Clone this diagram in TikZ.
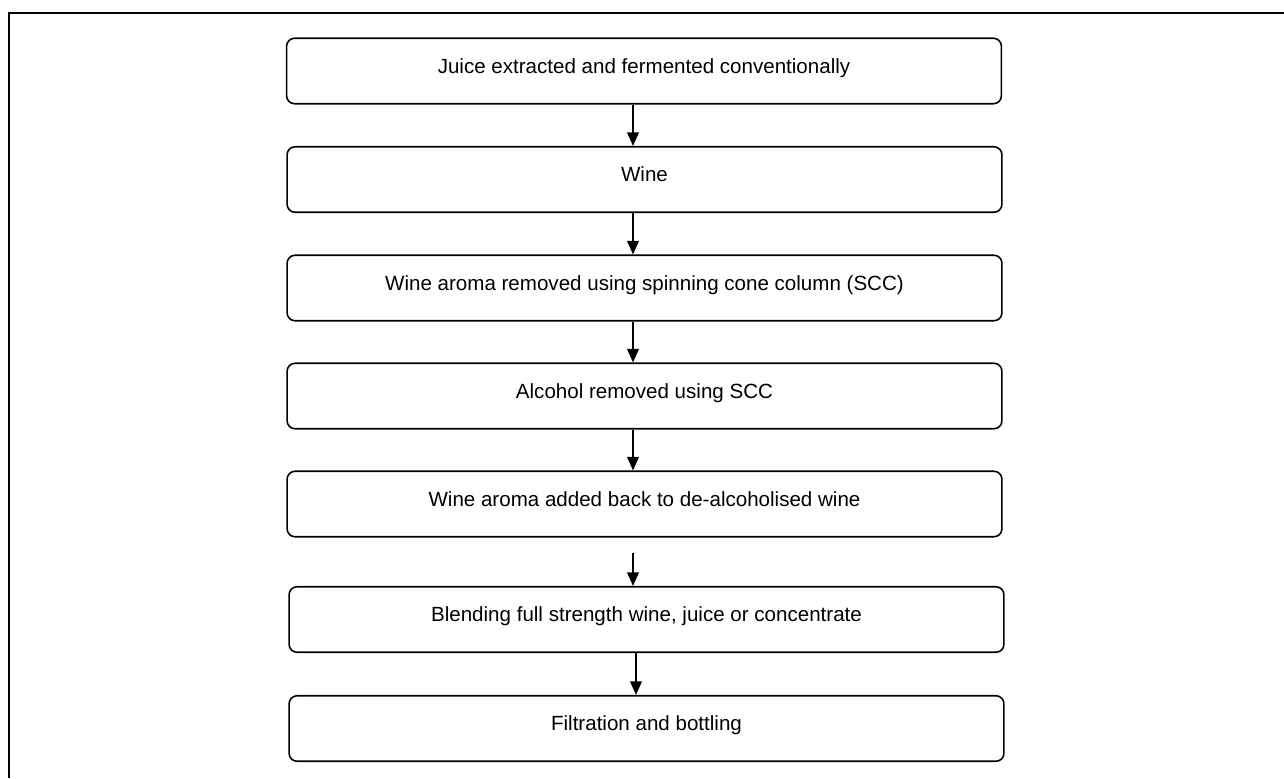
\documentclass[tikz,border=0pt]{standalone}
\usepackage{fontspec}
\setmainfont{Liberation Sans}
\usetikzlibrary{arrows.meta}

\begin{document}
\begin{tikzpicture}[x=0.02cm,y=-0.02cm]
          \useasboundingbox (0,0) rectangle (1284,778);
          \draw [line width=1.3pt] (1284,13) -| (9,778);

          \begin{scope}[every node/.style={draw,line width=0.9pt,rounded corners=0.16cm,
              minimum width=14.3cm,minimum height=1.31cm,inner sep=0pt,
              text height=0.3cm,text depth=0.22cm,font=\fontsize{11.7}{14}\selectfont}]
            \node (juice) at (644,71) {Juice extracted and fermented conventionally};
            \node (wine) at (644.5,179.5) {Wine};
            \node (aroma) at (644.5,288) {Wine aroma removed using spinning cone column (SCC)};
            \node (alcohol) at (644.5,396) {Alcohol removed using SCC};
            \node (addback) at (644.5,504) {Wine aroma added back to de-alcoholised wine};
            \node (blend) at (646.5,619.5) {Blending full strength wine, juice or concentrate};
            \node (bottle) at (646.5,728.5) {Filtration and bottling};
          \end{scope}

          \coordinate (ax) at (633,0);
          \coordinate (bx) at (636,0);
          \coordinate (gap) at (633,553);

          \begin{scope}[line width=1.1pt,-{Triangle[length=0.27cm,width=0.23cm]}]
            \draw (juice.south -| ax) -- (wine.north -| ax);
            \draw (wine.south -| ax) -- (aroma.north -| ax);
            \draw (aroma.south -| ax) -- (alcohol.north -| ax);
            \draw (alcohol.south -| ax) -- (addback.north -| ax);
            \draw (gap) -- (blend.north -| gap);
            \draw (blend.south -| bx) -- (bottle.north -| bx);
          \end{scope}
        \end{tikzpicture}
\end{document}
